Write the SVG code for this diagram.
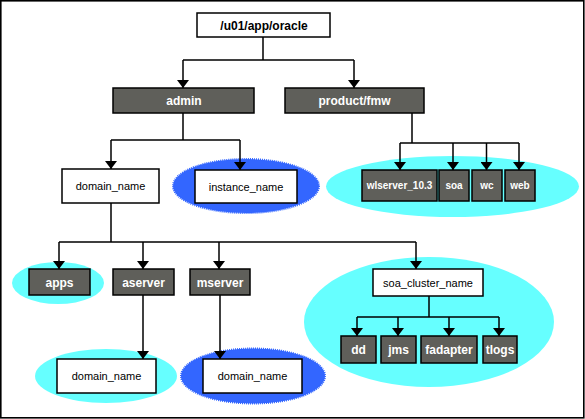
<svg xmlns="http://www.w3.org/2000/svg" width="585" height="419" viewBox="0 0 585 419">
<defs>
<style>
.frame{fill:#fff;stroke:#000;stroke-width:1.6}
.w{fill:#fff;stroke:#000;stroke-width:1.5}
.d{fill:#5f5f5a;stroke:#000;stroke-width:1.5}
.cy{fill:#66ffff;stroke:none}
.bl{fill:#3366ff;stroke:#3366ff;stroke-width:2;stroke-dasharray:1 1}
.tb{font-family:"Liberation Sans",Arial,sans-serif;font-weight:bold;font-size:12px;fill:#fff;text-anchor:middle}
.ts{font-family:"Liberation Sans",Arial,sans-serif;font-weight:bold;font-size:10px;fill:#fff;text-anchor:middle}
.tk{font-family:"Liberation Sans",Arial,sans-serif;font-weight:bold;font-size:12px;fill:#000;text-anchor:middle}
.tr{font-family:"Liberation Sans",Arial,sans-serif;font-size:11px;fill:#000;text-anchor:middle}
.c{fill:none;stroke:#000;stroke-width:1.5}
.a{fill:none;stroke:#000;stroke-width:1.5;marker-end:url(#arr)}
</style>
<marker id="arr" viewBox="0 0 8 12" refX="8" refY="6" markerWidth="8" markerHeight="12" markerUnits="userSpaceOnUse" orient="auto">
<path d="M0,0 L8,6 L0,12 z" fill="#000"/>
</marker>
</defs>
<rect class="frame" x="0.8" y="0.8" width="583" height="417"/>

<g id="groups">
<ellipse id="g-instance" class="bl" cx="246" cy="186" rx="73" ry="27"/>
<ellipse id="g-fmw" class="cy" cx="452.5" cy="186.5" rx="126.5" ry="30.5"/>
<ellipse id="g-apps" class="cy" cx="58" cy="283" rx="46" ry="21"/>
<ellipse id="g-cluster" class="cy" cx="429" cy="322" rx="125" ry="65"/>
<ellipse id="g-adomain" class="cy" cx="106" cy="376" rx="71" ry="27"/>
<ellipse id="g-mdomain" class="bl" cx="253" cy="376" rx="72" ry="27.5"/>
</g>

<g id="connectors">
<path class="c" d="M263,37 V60 M183,60 H354"/>
<path class="a" d="M183,60 V88"/>
<path class="a" d="M354,60 V88"/>
<path class="c" d="M183,113 V140 M111,140 H240"/>
<path class="a" d="M111,140 V169"/>
<path class="a" d="M240,140 V170"/>
<path class="c" d="M412,113 V143 M400,143 H519"/>
<path class="a" d="M400,143 V170"/>
<path class="a" d="M453,143 V170"/>
<path class="a" d="M486.5,143 V170"/>
<path class="a" d="M519,143 V170"/>
<path class="c" d="M111,203 V242 M59,242 H416"/>
<path class="a" d="M59,242 V269"/>
<path class="a" d="M143,242 V269"/>
<path class="a" d="M219,242 V269"/>
<path class="a" d="M416,242 V269"/>
<path class="a" d="M143,295 V359"/>
<path class="a" d="M220,295 V359"/>
<path class="c" d="M429,296 V317 M357,317 H499"/>
<path class="a" d="M357,317 V336"/>
<path class="a" d="M398,317 V336"/>
<path class="a" d="M449,317 V336"/>
<path class="a" d="M499,317 V336"/>
</g>

<g id="root"><rect class="w" x="197" y="13" width="133" height="24"/><text class="tk" x="264" y="29.5">/u01/app/oracle</text></g>
<g id="admin"><rect class="d" x="113" y="88" width="141" height="25"/><text class="tb" x="184" y="105">admin</text></g>
<g id="product"><rect class="d" x="285" y="88" width="139" height="25"/><text class="tb" x="354.5" y="105">product/fmw</text></g>
<g id="domain_name"><rect class="w" x="62" y="169" width="97" height="34"/><text class="tr" x="110.5" y="190">domain_name</text></g>
<g id="instance_name"><rect class="w" x="195" y="170" width="102" height="33"/><text class="tr" x="246" y="190.5">instance_name</text></g>
<g id="wlserver"><rect class="d" x="362" y="170" width="75" height="31"/><text class="ts" x="399.5" y="189">wlserver_10.3</text></g>
<g id="soa"><rect class="d" x="439" y="170" width="30" height="31"/><text class="ts" x="454" y="189">soa</text></g>
<g id="wc"><rect class="d" x="472" y="170" width="30" height="31"/><text class="ts" x="487" y="189">wc</text></g>
<g id="web"><rect class="d" x="505" y="170" width="30" height="31"/><text class="ts" x="520" y="189">web</text></g>
<g id="apps"><rect class="d" x="29" y="269" width="61" height="26"/><text class="tb" x="59.5" y="286.5">apps</text></g>
<g id="aserver"><rect class="d" x="113" y="269" width="61" height="26"/><text class="tb" x="143.5" y="286.5">aserver</text></g>
<g id="mserver"><rect class="d" x="190" y="269" width="60" height="26"/><text class="tb" x="220" y="286.5">mserver</text></g>
<g id="soa_cluster_name"><rect class="w" x="373" y="269" width="110" height="27"/><text class="tr" x="428" y="286.5">soa_cluster_name</text></g>
<g id="dd"><rect class="d" x="341" y="336" width="35" height="27"/><text class="tb" x="358.5" y="354">dd</text></g>
<g id="jms"><rect class="d" x="381" y="336" width="35" height="27"/><text class="tb" x="398.5" y="354">jms</text></g>
<g id="fadapter"><rect class="d" x="421" y="336" width="56" height="27"/><text class="tb" x="449" y="354">fadapter</text></g>
<g id="tlogs"><rect class="d" x="483" y="336" width="34" height="27"/><text class="tb" x="500" y="354">tlogs</text></g>
<g id="adomain"><rect class="w" x="57" y="359" width="99" height="34"/><text class="tr" x="106.5" y="380">domain_name</text></g>
<g id="mdomain"><rect class="w" x="203" y="359" width="99" height="34"/><text class="tr" x="252.5" y="380">domain_name</text></g>
</svg>
